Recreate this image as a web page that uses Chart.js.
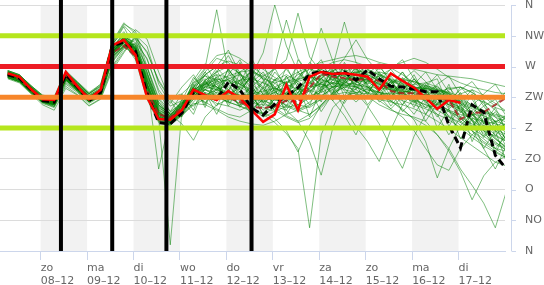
<!DOCTYPE html>
<html>
<head>
<meta charset="utf-8">
<script src="https://cdn.jsdelivr.net/npm/chart.js@4/dist/chart.umd.min.js"></script>
<style>
  html, body { margin: 0; padding: 0; background: #fff; }
  #wrap { width: 544px; height: 285px; }
</style>
</head>
<body>
<div id="wrap"><canvas id="wind-canvas"></canvas></div>
<script>
// hours since zo 08-12 00:00, 6-hourly
var hours = [];
for (var h = -17; h <= 241; h += 6) hours.push(h);

var dayNames = ['zo', 'ma', 'di', 'wo', 'do', 'vr', 'za', 'zo', 'ma', 'di'];
var dayDates = ['08–12', '09–12', '10–12', '11–12', '12–12', '13–12', '14–12', '15–12', '16–12', '17–12'];
var dayStarts = [0, 24, 48, 72, 96, 120, 144, 168, 192, 216];
var shadedDays = [0, 48, 96, 144, 192];

var dirLabels = ['N', 'NO', 'O', 'ZO', 'Z', 'ZW', 'W', 'NW', 'N'];

// wind direction lines (degrees) and moments
var levels = [315, 270, 225, 180];
var markers = [10.5, 37, 65, 109];

var oper = [260,255,237,222,221,262,241,222,236,301, 309,287,225,193,192,206,236,228,221,234,
  224,206,189,200,243,206,255,262,259,260, 258,255,236,260,249,239,224,208,221,217];
var control = [258,253,236,220,218,258,240,220,232,300, 306,292,230,188,186,202,232,226,222,247,
  236,209,199,215,227,239,259,263,258,262, 250,265,252,241,240,237,233,233,184,151, 214,203,140,119];
var mean = [258,252,236,222,218,255,240,225,232,290, 300,285,235,200,195,210,228,226,222,225,
  218,211,209,212,220,218,239,259,255,253, 250,252,249,234,231,231,228,224,221,193, 202,203,214,225];

var members = [
  [260,254,238,224,220,258,243,226,236,296, 310,290,230,196,192,208,232,240,236,230, 228,224,218,226,232,236,246,258,262,256, 250,246,240,236,230,226,220,214,206,200, 194,190,186,182],
  [256,250,234,220,214,250,236,222,228,282, 300,300,262,214,200,214,236,226,216,212, 206,214,228,240,248,252,256,250,246,242, 240,236,232,228,232,236,240,236,230,222, 214,206,200,196],
  [262,256,240,226,222,262,246,230,240,300, 328,294,240,202,190,204,224,250,262,270, 260,244,230,222,214,206,218,234,250,262, 270,266,258,250,244,240,236,232,226,218, 210,204,196,188],
  [254,248,232,216,210,244,232,216,226,270, 296,310,280,236,212,220,238,228,220,236, 250,262,256,240,222,206,200,212,232,246, 254,250,242,238,232,222,214,206,196,188, 176,164,150,138],
  [260,254,236,220,218,256,240,224,232,292, 312,286,226,190,186,200,230,246,254,240, 226,210,196,204,222,238,254,266,270,264, 256,248,244,246,250,248,242,236,232,226, 224,218,210,204],
  [258,252,238,224,222,260,244,228,238,298, 318,300,252,206,196,212,240,262,282,276, 258,240,222,210,198,190,200,214,230,240, 248,256,262,258,250,240,230,222,214,208, 196,180,166,150],
  [264,258,242,228,226,264,248,232,244,306, 334,318,262,204,188,198,214,222,232,246, 262,274,266,254,244,236,238,246,252,258, 262,264,258,252,246,238,226,212,198,184, 170,158,146,136],
  [252,246,230,214,206,238,228,212,222,264, 290,314,290,250,224,230,246,256,250,236, 222,218,226,236,246,258,266,262,256,248, 240,232,228,232,240,244,246,240,230,216, 200,184,170,160],
  [258,250,234,218,214,252,238,220,230,288, 304,280,222,188,184,202,226,218,208,200, 196,206,222,232,226,214,210,222,242,256, 262,258,250,242,236,230,228,232,238,240, 232,220,206,190],
  [262,256,238,222,216,254,236,218,226,286, 308,298,248,120,196,210,234,248,240,226, 214,222,238,250,258,248,236,228,236,250, 258,252,244,236,226,218,210,214,222,230, 236,228,216,204],
  [256,250,236,222,218,254,240,224,234,292, 306,284,228,194,9,204,226,236,244,252, 258,250,238,224,212,204,212,226,240,252, 248,240,232,226,220,214,208,200,192,180, 166,154,144,136],
  [260,252,236,220,216,252,238,222,230,290, 312,292,238,200,194,214,246,268,353,262, 236,220,210,204,212,228,244,256,264,270, 266,258,248,238,228,220,214,210,204,196, 186,176,168,160],
  [258,252,236,222,220,258,242,226,234,294, 314,296,246,204,192,208,236,258,270,294, 260,236,218,206,196,188,194,210,228,246, 260,270,274,268,258,246,234,226,220,216, 208,198,190,184],
  [254,248,232,218,212,248,234,218,228,278, 298,304,270,224,204,216,240,252,240,230, 238,256,290,360,300,262,246,240,246,252, 254,250,246,240,234,230,224,216,206,194, 180,168,156,148],
  [262,256,240,224,218,256,240,222,230,290, 310,288,234,198,190,206,230,242,236,228, 224,232,248,270,338,282,256,244,240,242, 246,252,256,250,242,234,228,224,218,210, 200,188,176,166],
  [256,250,234,220,216,254,238,224,232,290, 306,290,242,202,194,210,234,236,228,222, 226,240,256,266,280,348,284,262,250,246, 244,240,238,236,234,232,228,222,214,204, 192,178,164,152],
  [260,254,238,224,222,260,244,226,236,298, 316,292,236,198,192,206,226,232,226,218, 212,204,200,210,228,250,272,326,278,256, 244,238,232,230,232,236,238,232,222,208, 192,176,160,146],
  [258,252,236,222,218,256,240,224,232,292, 308,286,232,196,188,202,228,240,248,250, 244,236,228,222,220,226,238,252,270,335, 276,256,244,238,236,238,242,238,230,218, 204,190,178,170],
  [264,258,242,226,222,262,246,230,242,302, 330,312,244,196,190,204,222,228,236,244, 250,252,246,238,230,228,234,246,262,282, 309,280,260,248,242,240,238,234,228,220, 212,204,198,194],
  [254,248,232,218,214,250,236,220,228,284, 302,302,268,222,200,186,162,196,214,222, 226,230,234,238,234,228,226,232,240,244, 240,232,220,208,196,176,150,126,118,150, 170,184,190,194],
  [258,252,236,222,216,252,236,220,228,286, 304,284,230,194,186,200,222,230,226,218, 212,206,202,194,176,145,184,214,232,240, 236,226,214,206,200,196,190,170,146,116, 75,110,130,140],
  [262,256,238,222,220,258,242,226,236,294, 314,290,232,196,188,204,228,236,232,224, 216,210,200,188,172,150,34,170,210,226, 232,236,230,220,206,194,184,170,150,120, 96,70,34,90],
  [256,250,234,218,214,252,238,222,230,288, 306,296,250,208,196,212,236,246,238,228, 220,216,214,212,206,190,160,111,180,220, 238,248,256,266,280,252,232,218,204,190, 176,160,150,146],
  [260,254,238,224,220,256,240,224,234,294, 312,288,230,194,188,204,230,244,252,248, 240,230,220,214,210,214,224,236,220,198, 170,210,236,248,252,248,240,230,220,206, 190,172,158,150],
  [258,250,234,220,216,254,238,222,232,292, 308,290,240,200,192,208,234,250,258,254, 244,232,224,220,224,232,240,244,236,210, 182,160,131,178,214,232,238,236,228,216, 200,182,164,150],
  [262,256,240,226,224,262,246,228,238,298, 318,296,240,200,192,208,232,244,250,256, 262,264,254,240,228,222,226,236,246,244, 232,212,186,152,121,168,200,222,236,240, 232,216,196,178],
  [256,250,234,220,218,256,240,224,232,290, 308,292,244,204,196,212,236,244,240,232, 228,224,226,232,240,248,254,252,244,236, 232,230,228,220,208,192,160,107,150,184, 200,198,186,172],
  [260,252,236,222,218,254,238,222,230,290, 310,296,250,210,198,214,240,258,270,278, 272,262,252,246,252,262,270,276,280,284, 286,282,276,272,268,266,262,258,256,254, 252,248,244,240],
  [254,248,234,220,216,252,236,220,228,284, 300,294,256,214,200,216,242,266,286,290, 282,270,258,250,246,250,258,268,276,280, 276,270,266,270,276,282,276,266,254,246, 240,236,232,230],
  [258,252,236,220,214,250,234,218,226,280, 298,288,244,204,190,200,216,214,206,196, 190,186,184,190,200,206,214,222,228,232, 230,226,222,218,214,208,200,190,178,166, 154,142,130,124],
  [259,253,237,221,217,255,239,223,231,291, 307,289,236,198,190,214,244,210,252,218, 262,226,248,204,256,230,270,236,258,244, 266,238,254,226,246,218,238,206,226,196, 214,186,204,176],
  [261,255,239,225,221,259,243,227,235,297, 313,305,282,232,204,230,206,250,222,268, 236,254,216,246,228,262,240,274,250,262, 240,256,232,248,224,240,216,232,208,222, 198,212,188,200],
  [255,249,233,219,215,251,237,221,229,287, 305,324,310,262,220,196,236,214,258,232, 276,244,212,238,200,226,250,218,264,238, 252,228,262,236,214,242,220,196,224,188, 206,168,190,160],
  [257,251,235,221,217,253,239,223,231,289, 303,283,228,192,186,222,200,242,264,236, 212,248,274,232,256,224,262,280,244,270, 236,262,246,222,254,230,200,230,182,214, 160,196,142,180],
  [263,257,241,227,223,263,247,231,241,303, 321,291,228,190,184,206,250,274,244,220, 250,230,200,228,212,246,196,238,266,226, 260,244,270,250,228,252,236,214,244,202, 230,186,210,174],
  [253,247,231,217,211,241,229,213,223,268, 292,316,300,244,216,240,258,230,212,244, 222,200,232,262,242,274,232,254,226,248, 270,240,224,256,236,210,244,224,190,216, 182,206,168,190],
  [259,253,237,223,219,257,241,225,233,293, 309,287,232,194,188,204,228,258,234,266, 244,282,250,226,270,238,214,248,232,276, 250,230,258,240,262,234,246,252,210,232, 200,220,176,160],
  [261,255,237,221,217,253,237,219,227,285, 301,297,254,212,202,218,212,232,200,236, 210,232,198,224,248,212,236,204,230,216, 244,214,236,252,220,200,226,180,208,164, 194,150,176,128],
  [257,251,235,219,215,251,235,219,229,287, 309,301,260,218,196,206,240,222,248,212, 240,264,228,252,218,280,256,232,270,252, 228,250,240,212,234,258,226,242,220,236, 248,226,212,236],
  [262,256,240,224,220,258,242,226,234,290, 314,294,246,206,198,220,254,236,226,258, 280,246,262,234,218,240,224,258,240,220, 246,266,250,234,204,222,190,216,234,212, 190,166,184,150],
  [256,250,234,218,212,246,234,218,228,276, 298,312,292,248,222,208,230,248,230,216, 234,256,240,212,232,210,230,252,270,248, 262,244,226,244,262,240,218,200,170,196, 176,150,120,156],
  [260,254,238,222,218,256,240,222,232,294, 312,288,230,192,184,198,218,236,262,286, 256,218,240,268,236,252,276,262,238,256, 272,250,232,218,236,252,230,244,256,228, 212,230,244,218],
  [258,252,236,222,218,254,238,224,232,290, 306,290,244,202,194,212,238,216,238,252, 226,208,222,250,266,244,222,240,256,234, 218,234,250,266,244,226,210,224,196,178, 200,176,150,170],
  [264,258,242,228,224,262,246,230,244,304, 332,322,270,214,194,216,226,244,268,250, 232,258,236,214,228,254,272,246,230,266, 248,260,272,246,232,216,240,258,232,206, 180,204,190,160],
  [254,248,232,218,214,250,236,220,226,282, 300,296,258,218,200,210,226,240,254,264, 248,226,206,222,240,226,246,266,254,238, 222,240,226,208,226,244,262,236,214,240, 222,196,176,200],
  [258,252,236,222,220,258,242,226,236,296, 312,298,252,210,198,218,234,262,240,224, 242,266,252,230,206,232,258,242,220,250, 268,242,218,230,250,264,248,226,240,218, 236,212,222,196]
];

var levelColors = ['#b5e61d', '#ed1c24', '#f7862a', '#b5e61d'];

function pairs(values) {
  return values.map(function(v, i) { return {x: hours[i], y: v}; });
}

var datasets = [
  {data: pairs(oper), borderColor: '#ff0000', borderWidth: 2.5, order: 1},
  {data: pairs(control), borderColor: '#000000', borderWidth: 3, borderDash: [7, 4], order: 2},
  {data: pairs(mean), borderColor: 'rgba(170,30,30,0.85)', borderWidth: 2, borderDash: [6, 3], order: 3}
];
members.forEach(function(m) {
  datasets.push({data: pairs(m), borderColor: 'rgba(0,128,0,0.5)', borderWidth: 1, order: 10});
});

var decor = {
  id: 'decor',
  beforeDraw: function(chart) {
    var ctx = chart.ctx, a = chart.chartArea, x = chart.scales.x;
    ctx.save();
    ctx.fillStyle = '#f2f2f2';
    shadedDays.forEach(function(d) {
      var x0 = x.getPixelForValue(d), x1 = x.getPixelForValue(d + 24);
      ctx.fillRect(x0, a.top, x1 - x0, a.bottom - a.top);
    });
    ctx.restore();
  },
  afterDatasetsDraw: function(chart) {
    var ctx = chart.ctx, a = chart.chartArea, x = chart.scales.x, y = chart.scales.y;
    ctx.save();
    ctx.lineWidth = 5;
    levels.forEach(function(v, i) {
      var py = y.getPixelForValue(v);
      ctx.strokeStyle = levelColors[i];
      ctx.beginPath();
      ctx.moveTo(a.left, py);
      ctx.lineTo(a.right, py);
      ctx.stroke();
    });
    ctx.lineWidth = 4;
    ctx.strokeStyle = '#000';
    markers.forEach(function(t) {
      var px = x.getPixelForValue(t);
      ctx.beginPath();
      ctx.moveTo(px, 0);
      ctx.lineTo(px, a.bottom);
      ctx.stroke();
    });
    ctx.restore();
  },
  afterDraw: function(chart) {
    var ctx = chart.ctx, a = chart.chartArea, y = chart.scales.y;
    var ax = a.right + 6.5;
    ctx.save();
    ctx.strokeStyle = '#ccd6eb';
    ctx.lineWidth = 1;
    ctx.beginPath();
    ctx.moveTo(ax, a.top);
    ctx.lineTo(ax, a.bottom);
    y.ticks.forEach(function(t) {
      var py = Math.round(y.getPixelForValue(t.value)) + 0.5;
      ctx.moveTo(ax, py);
      ctx.lineTo(ax + 4.5, py);
    });
    ctx.stroke();
    ctx.restore();
  }
};

var font = {family: 'DejaVu Sans', size: 11, lineHeight: 1.25};

new Chart(document.getElementById('wind-canvas').getContext('2d'), {
  type: 'line',
  data: {datasets: datasets},
  plugins: [decor],
  options: {
    responsive: true,
    maintainAspectRatio: false,
    animation: false,
    events: [],
    layout: {padding: {top: 5, left: 0, right: 0, bottom: 0}},
    elements: {point: {radius: 0}, line: {tension: 0, fill: false}},
    plugins: {legend: {display: false}, tooltip: {enabled: false}},
    scales: {
      x: {
        type: 'linear',
        min: -21,
        max: 240,
        afterBuildTicks: function(s) {
          s.ticks = dayStarts.map(function(v) { return {value: v}; });
        },
        afterFit: function(s) {
          s.height = 34;
          s.paddingLeft = 0;
          s.paddingRight = 0;
        },
        grid: {drawOnChartArea: false, drawTicks: true, tickLength: 9, tickColor: '#ccd6eb'},
        border: {color: '#ccd6eb'},
        ticks: {
          autoSkip: false,
          maxRotation: 0,
          align: 'start',
          padding: 1,
          color: '#666',
          font: font,
          callback: function(v, i) { return [dayNames[i], dayDates[i]]; }
        }
      },
      y: {
        position: 'right',
        min: 0,
        max: 360,
        afterFit: function(s) {
          s.width = 39;
          s.paddingTop = 0;
          s.paddingBottom = 0;
        },
        grid: {color: '#dcdcdc', drawTicks: true, tickLength: 15, tickColor: 'rgba(0,0,0,0)'},
        border: {display: false},
        ticks: {
          stepSize: 45,
          padding: 5,
          color: '#666',
          font: font,
          callback: function(v) { return dirLabels[Math.round(v / 45)]; }
        }
      }
    }
  }
});
</script>
</body>
</html>
